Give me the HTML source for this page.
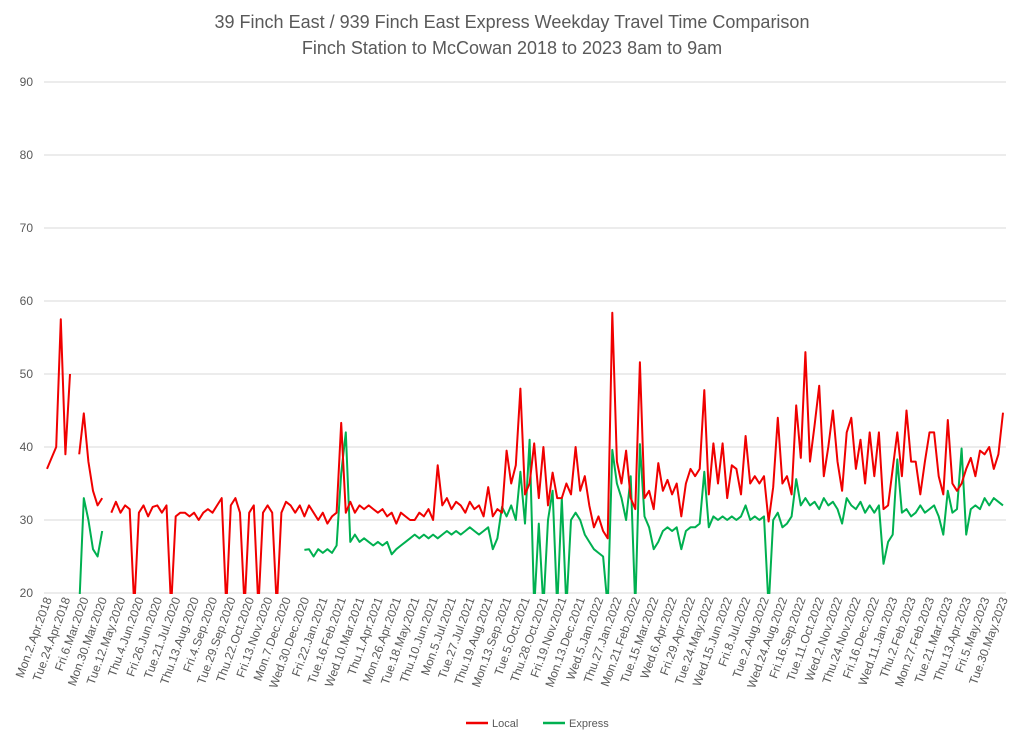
<!DOCTYPE html>
<html><head><meta charset="utf-8"><style>
html,body{margin:0;padding:0;background:#fff;}
svg{display:block;font-family:"Liberation Sans",sans-serif;}
</style></head><body>
<svg id="chart" width="1024" height="744" viewBox="0 0 1024 744">
<defs><clipPath id="plotclip"><rect x="40" y="78" width="975" height="516"/></clipPath></defs>
<text x="512" y="28" text-anchor="middle" font-size="18" fill="#595959">39 Finch East / 939 Finch East Express Weekday Travel Time Comparison</text>
<text x="512" y="54" text-anchor="middle" font-size="18" fill="#595959">Finch Station to McCowan 2018 to 2023 8am to 9am</text>
<g id="grid"></g><g id="ylabels"></g><g id="xlabels"></g><g id="series" clip-path="url(#plotclip)"></g>
<g>
<line x1="466" y1="723" x2="488" y2="723" stroke="#f00000" stroke-width="2.5"/>
<text x="492" y="727" font-size="11" fill="#595959">Local</text>
<line x1="543" y1="723" x2="565" y2="723" stroke="#00b050" stroke-width="2.5"/>
<text x="569" y="727" font-size="11" fill="#595959">Express</text>
</g>
</svg>
<script>
const categories = ["Mon.2.Apr.2018","Tue.24.Apr.2018","Fri.6.Mar.2020","Mon.30.Mar.2020","Tue.12.May.2020","Thu.4.Jun.2020","Fri.26.Jun.2020","Tue.21.Jul.2020","Thu.13.Aug.2020","Fri.4.Sep.2020","Tue.29.Sep.2020","Thu.22.Oct.2020","Fri.13.Nov.2020","Mon.7.Dec.2020","Wed.30.Dec.2020","Fri.22.Jan.2021","Tue.16.Feb.2021","Wed.10.Mar.2021","Thu.1.Apr.2021","Mon.26.Apr.2021","Tue.18.May.2021","Thu.10.Jun.2021","Mon.5.Jul.2021","Tue.27.Jul.2021","Thu.19.Aug.2021","Mon.13.Sep.2021","Tue.5.Oct.2021","Thu.28.Oct.2021","Fri.19.Nov.2021","Mon.13.Dec.2021","Wed.5.Jan.2022","Thu.27.Jan.2022","Mon.21.Feb.2022","Tue.15.Mar.2022","Wed.6.Apr.2022","Fri.29.Apr.2022","Tue.24.May.2022","Wed.15.Jun.2022","Fri.8.Jul.2022","Tue.2.Aug.2022","Wed.24.Aug.2022","Fri.16.Sep.2022","Tue.11.Oct.2022","Wed.2.Nov.2022","Thu.24.Nov.2022","Fri.16.Dec.2022","Wed.11.Jan.2023","Thu.2.Feb.2023","Mon.27.Feb.2023","Tue.21.Mar.2023","Thu.13.Apr.2023","Fri.5.May.2023","Tue.30.May.2023"];
const yTicks = [20,30,40,50,60,70,80,90];
const localValues = [37,38.5,40,57.5,39,50,null,39,44.6,38,34,32,33,null,31,32.5,31,32,31.5,0,31,32,30.5,31.8,32,31,32,0,30.5,31,31,30.5,31,30,31,31.5,31,32,33,0,32,33,31,0,31,32,0,31,32,31,0,31,32.5,32,31,32,30.5,32,31,30,31,29.5,30.5,31,43.3,31,32.5,31,32,31.5,32,31.5,31,31.5,30.5,31,29.5,31,30.5,30,30,31,30.5,31.5,30,37.5,32,33,31.5,32.5,32,31,32.5,31.5,32,30.5,34.5,30.5,31.5,31,39.5,35,37.5,48,33.5,35,40.5,33,40,32,36.5,33,33,35,33.5,40,34,36,32,29,30.5,28.5,27.5,58.4,38,35,39.5,33,31.5,51.6,33,34,31.5,37.8,34,35.5,33.5,35,30.5,35,37,36,37,47.8,33.5,40.5,35,40.5,33,37.5,37,33.5,41.5,35,36,35,36,29.8,34.5,44,35,36,33.5,45.7,38.5,53,38,43,48.4,36,40,45,38,34,42,44,37,41,35,42,36,42,31.5,32,37,42,36,45,38,38,33.5,38,42,42,36,33.5,43.7,35,34,35,37,38.5,36,39.5,39,40,37,39,44.7];
const expressValues = [null,null,null,null,null,null,null,0,33,30,26,25,28.5,null,null,null,null,null,null,null,null,null,null,null,null,null,null,null,null,null,null,null,null,null,null,null,null,null,null,null,null,null,null,null,null,null,null,null,null,null,null,null,null,null,null,null,25.9,26,25,26,25.5,26,25.5,26.5,36.4,42,27,28,27,27.5,27,26.5,27,26.5,27,25.3,26,26.5,27,27.5,28,27.5,28,27.5,28,27.5,28,28.5,28,28.5,28,28.5,29,28.5,28,28.5,29,26,27.5,31.8,30.5,32,30,36.6,29.5,41,0,29.5,0,30,34,0,33,0,30,31,30,28,27,26,25.5,25,0,39.6,35,33,30,36,0,40.4,30.5,29,26,27,28.5,29,28.5,29,26,28.5,29,29,29.5,36.6,29,30.5,30,30.5,30,30.5,30,30.5,32,30,30.5,30,30.5,0,30,31,29,29.5,30.5,35.6,32,33,32,32.5,31.5,33,32,32.5,31.5,29.5,33,32,31.5,32.5,31,32,31,32,24,27,28,38.3,31,31.5,30.5,31,32,31,31.5,32,30.5,28,34,31,31.5,39.8,28,31.5,32,31.5,33,32,33,32.5,32];

const NS = "http://www.w3.org/2000/svg";
const X0 = 47, X1 = 1003, YB = 593, YT = 82, VMIN = 20, VMAX = 90;
const nPts = localValues.length;
const catStep = (nPts - 1) / (categories.length - 1);
function xScale(i){ return X0 + (X1 - X0) * i / (nPts - 1); }
function yScale(v){ return YB - (v - VMIN) / (VMAX - VMIN) * (YB - YT); }

const grid = document.getElementById('grid');
const yl = document.getElementById('ylabels');
yTicks.forEach(t => {
  const ln = document.createElementNS(NS,'line');
  ln.setAttribute('x1', 44); ln.setAttribute('x2', 1006);
  ln.setAttribute('y1', yScale(t)); ln.setAttribute('y2', yScale(t));
  ln.setAttribute('stroke', '#d9d9d9'); ln.setAttribute('stroke-width', '1');
  
  
  grid.appendChild(ln);
  const tx = document.createElementNS(NS,'text');
  tx.setAttribute('x', 33); tx.setAttribute('y', yScale(t) + 4);
  tx.setAttribute('text-anchor', 'end'); tx.setAttribute('font-size', '12'); tx.setAttribute('fill', '#595959');
  tx.textContent = t;
  
  
  yl.appendChild(tx);
});

const xl = document.getElementById('xlabels');
categories.forEach((c, k) => {
  const x = xScale(k * catStep) + 5;
  const tx = document.createElementNS(NS,'text');
  tx.setAttribute('transform', 'translate(' + x + ',599) rotate(-70)');
  tx.setAttribute('text-anchor', 'end'); tx.setAttribute('font-size', '12'); tx.setAttribute('fill', '#595959');
  tx.textContent = c;
  
  
  xl.appendChild(tx);
});

function drawSeries(vals, color, name){
  let d = '', pen = false;
  vals.forEach((v, i) => {
    if (v === null) { pen = false; return; }
    d += (pen ? 'L' : 'M') + xScale(i).toFixed(1) + ' ' + yScale(Math.max(v, VMIN - 2)).toFixed(1) + ' ';
    pen = true;
  });
  const p = document.createElementNS(NS,'path');
  p.setAttribute('d', d); p.setAttribute('fill', 'none'); p.setAttribute('stroke', color);
  p.setAttribute('stroke-width', '2'); p.setAttribute('stroke-linejoin', 'round');
  
  
  document.getElementById('series').appendChild(p);
}
drawSeries(expressValues, '#00b050', 'express-line');
drawSeries(localValues, '#f00000', 'local-line');
</script>
</body></html>
